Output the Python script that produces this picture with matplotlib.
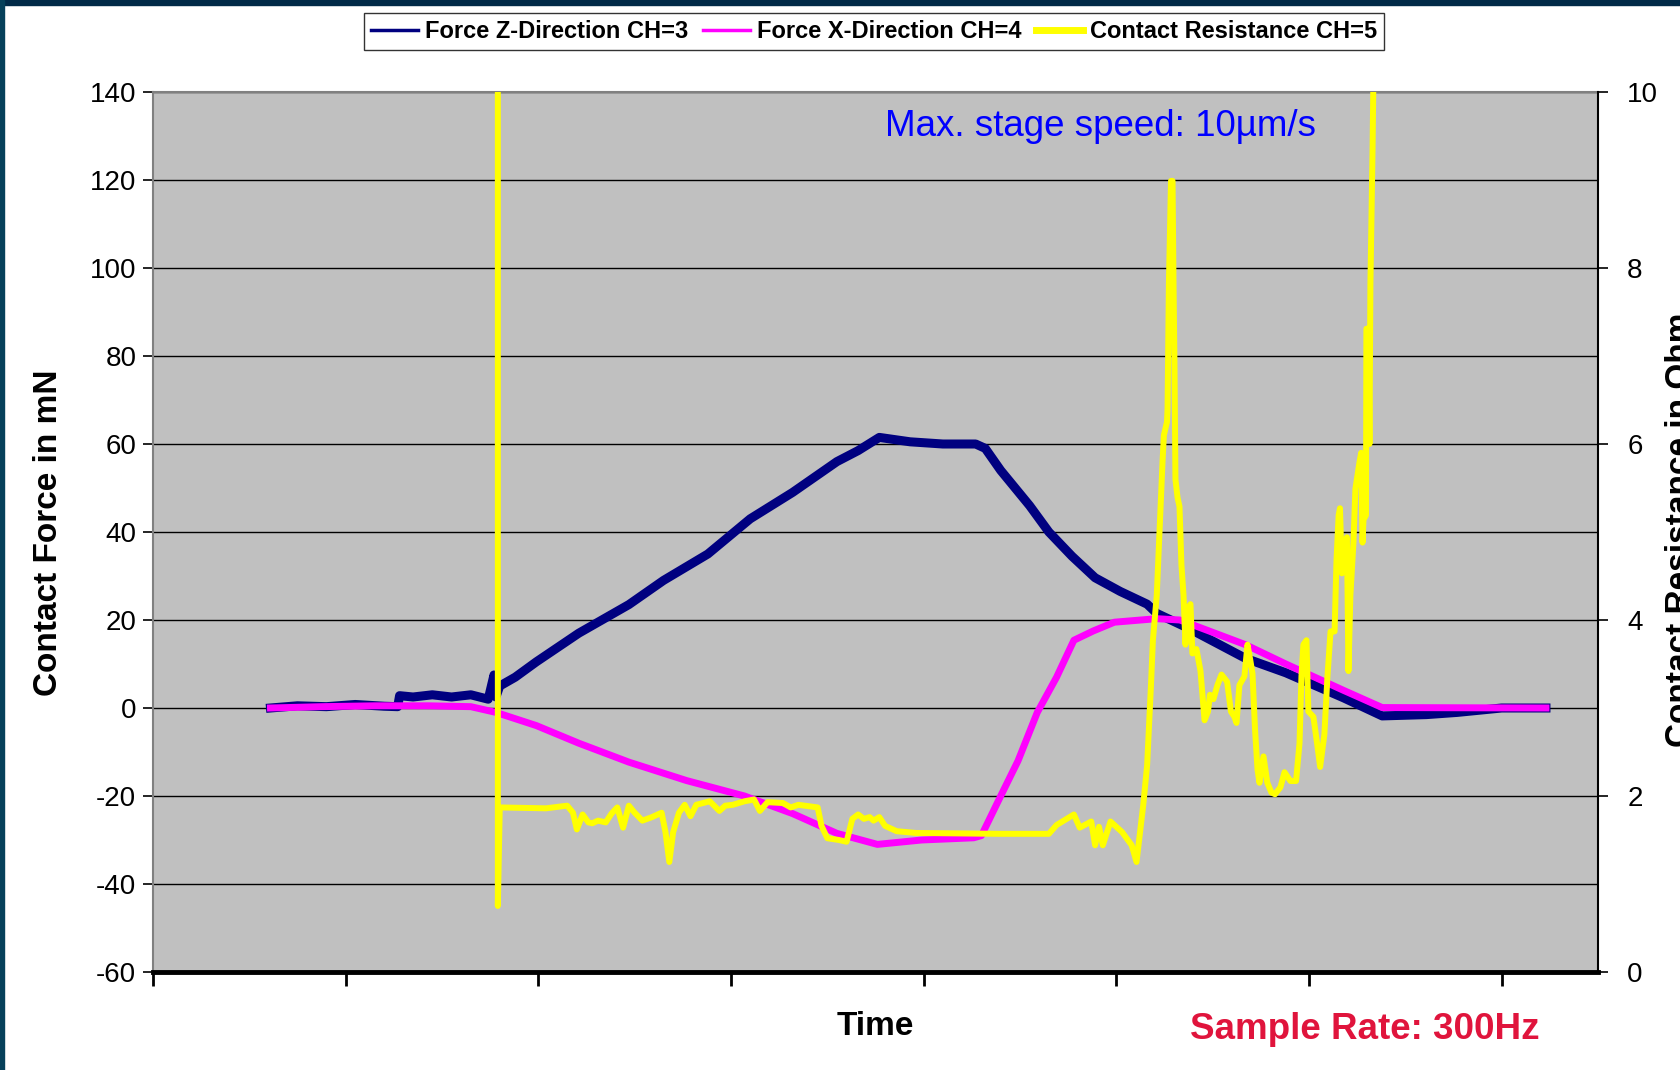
import matplotlib
matplotlib.use("Agg")
import matplotlib.pyplot as plt
from matplotlib.lines import Line2D
from matplotlib.patches import Rectangle

plt.rcParams['font.family'] = ['Liberation Sans', 'DejaVu Sans']
plt.rcParams['axes.unicode_minus'] = False

# time in chart divisions (the original x axis has no labels)
t_z = [0.61, 0.75, 0.90, 1.05, 1.20, 1.27, 1.28, 1.35, 1.45, 1.55, 1.65, 1.74, 1.77, 1.78,
       1.80, 1.88, 1.99, 2.21, 2.47, 2.65, 2.88, 3.10, 3.32, 3.55, 3.66, 3.77, 3.93, 4.10,
       4.27, 4.32, 4.40, 4.55, 4.65, 4.77, 4.89, 5.02, 5.16, 5.21, 5.38, 5.67, 5.88, 6.18,
       6.38, 6.61, 6.77, 7.00, 7.23]
force_z = [0.0, 0.5, 0.3, 0.8, 0.4, 0.3, 2.8, 2.5, 3.0, 2.5, 3.0, 2.0, 7.5, 2.5,
           5.0, 7.0, 10.5, 17.0, 23.5, 29.0, 35.0, 43.0, 49.0, 56.0, 58.5, 61.5, 60.5, 60.0,
           60.0, 59.0, 54.0, 46.0, 40.0, 34.5, 29.6, 26.5, 23.6, 21.5, 18.0, 11.3, 8.0, 2.3,
           -1.8, -1.5, -1.0, 0.0, 0.0]

t_x = [0.61, 0.87, 1.15, 1.43, 1.65, 1.78, 1.99, 2.21, 2.47, 2.77, 3.07, 3.32, 3.55, 3.76,
       3.99, 4.26, 4.30, 4.40, 4.49, 4.59, 4.69, 4.78, 4.88, 4.99, 5.21, 5.33, 5.67, 5.88,
       6.18, 6.38, 7.23]
force_x = [0.0, 0.3, 0.5, 0.5, 0.3, -1.0, -4.0, -8.0, -12.3, -16.5, -20.0, -24.0, -28.5, -31.0,
           -30.0, -29.5, -29.0, -20.0, -12.0, -1.0, 7.0, 15.4, 17.5, 19.5, 20.3, 20.0, 14.4, 10.0,
           4.0, 0.1, 0.0]

t_r = [1.79, 1.79, 1.80, 2.04, 2.15, 2.18, 2.20, 2.23, 2.26, 2.28, 2.31, 2.35, 2.38, 2.41,
       2.44, 2.46, 2.47, 2.50, 2.54, 2.59, 2.64, 2.66, 2.68, 2.70, 2.73, 2.76, 2.79, 2.82,
       2.89, 2.94, 2.97, 3.01, 3.07, 3.12, 3.15, 3.19, 3.27, 3.31, 3.35, 3.45, 3.47, 3.50,
       3.56, 3.60, 3.63, 3.66, 3.69, 3.72, 3.74, 3.77, 3.80, 3.86, 3.96, 4.39, 4.65, 4.69,
       4.78, 4.81, 4.87, 4.89, 4.91, 4.93, 4.97, 5.03, 5.08, 5.105, 5.14, 5.16, 5.18, 5.19,
       5.21, 5.22, 5.240, 5.247, 5.263, 5.266, 5.273, 5.284, 5.292, 5.297, 5.302, 5.307,
       5.318, 5.328, 5.338, 5.349, 5.359, 5.369, 5.385, 5.395, 5.416, 5.437, 5.458, 5.476,
       5.486, 5.504, 5.525, 5.546, 5.575, 5.595, 5.613, 5.624, 5.639, 5.665, 5.681, 5.695,
       5.707, 5.720, 5.733, 5.743, 5.764, 5.784, 5.805, 5.824, 5.852, 5.873, 5.904, 5.933,
       5.951, 5.961, 5.971, 5.987, 5.997, 6.023, 6.042, 6.058, 6.080, 6.096, 6.112, 6.133,
       6.143, 6.154, 6.161, 6.171, 6.184, 6.197, 6.205, 6.215, 6.231, 6.241, 6.262, 6.271,
       6.278, 6.283, 6.296, 6.298, 6.309, 6.314, 6.319, 6.330, 6.345]
resistance = [12.0, 0.75, 1.87, 1.86, 1.89, 1.81, 1.62, 1.79, 1.70, 1.69, 1.72, 1.70, 1.80, 1.87,
              1.64, 1.81, 1.89, 1.81, 1.72, 1.76, 1.81, 1.59, 1.25, 1.59, 1.81, 1.90, 1.77, 1.90,
              1.94, 1.83, 1.89, 1.90, 1.94, 1.96, 1.83, 1.93, 1.92, 1.87, 1.90, 1.87, 1.66, 1.52,
              1.50, 1.48, 1.74, 1.79, 1.74, 1.76, 1.72, 1.76, 1.66, 1.60, 1.58, 1.57, 1.57, 1.67,
              1.79, 1.64, 1.71, 1.44, 1.65, 1.44, 1.71, 1.59, 1.44, 1.25, 1.90, 2.35, 3.26, 3.77,
              4.28, 4.78, 5.80, 6.10, 6.25, 6.40, 7.82, 8.99, 8.99, 7.82, 6.90, 5.60,
              5.39, 5.29, 4.63, 4.28, 3.72, 4.12, 4.18, 3.62, 3.67, 3.42, 2.86, 2.96,
              3.15, 3.10, 3.26, 3.38, 3.30, 2.96, 2.90, 2.83, 3.26, 3.36, 3.72, 3.55,
              3.39, 2.76, 2.30, 2.15, 2.45, 2.15, 2.04, 2.02, 2.10, 2.27, 2.17, 2.17,
              2.60, 3.36, 3.72, 3.77, 2.96, 2.90, 2.60, 2.33, 2.70, 3.36, 3.87, 3.87,
              4.68, 5.19, 5.27, 4.53, 4.88, 4.94, 3.42, 4.28, 4.88, 5.49, 5.79, 5.90,
              4.88, 5.14, 5.19, 7.31, 7.31, 6.00, 7.82, 9.34, 12.0]

left_ticks = list(range(-60, 141, 20))
right_ticks = list(range(0, 11, 2))

fig = plt.figure(figsize=(16.81, 10.70), dpi=100)
ax = fig.add_axes([0.0910, 0.0916, 0.8596, 0.8224])
ax.set_facecolor('#c0c0c0')
ax.set_xlim(0, 7.5)
ax.set_ylim(-60, 140)
ax.set_yticks(left_ticks)
ax.set_xticks(range(0, 8))
ax.set_xticklabels([])
ax.grid(axis='y', color='black', lw=1.0)
ax.set_axisbelow(True)

ax.plot(t_z, force_z, color='#000080', lw=6.5)
ax.plot(t_x, force_x, color='#ff00ff', lw=5)

ax.spines['bottom'].set_linewidth(3.5)
ax.spines['bottom'].set_color('black')
for s in ['left', 'top']:
    ax.spines[s].set_color('#808080')
    ax.spines[s].set_linewidth(1.5)
ax.spines['right'].set_visible(False)
ax.tick_params(axis='y', direction='out', length=7, width=1.2, labelsize=20, pad=5)
ax.tick_params(axis='x', direction='out', length=10, width=2)

ax2 = ax.twinx()
ax2.set_ylim(0, 10)
ax2.set_yticks(right_ticks)
ax2.plot(t_r, resistance, color='#ffff00', lw=4.3)
for s in ['left', 'top', 'bottom']:
    ax2.spines[s].set_visible(False)
ax2.spines['right'].set_color('black')
ax2.spines['right'].set_linewidth(1.5)
ax2.tick_params(axis='y', direction='out', length=7, width=1.2, labelsize=20, pad=14)

ax.text(0.656, 0.961, 'Max. stage speed: 10µm/s', transform=ax.transAxes,
        ha='center', va='center', fontsize=26.5, color='#0000ff')

fig.text(0.0286, 0.502, 'Contact Force in mN', rotation=90, ha='center', va='center',
         fontsize=24, fontweight='bold')
# the original screenshot cuts this title off at the right edge
fig.text(0.9905, 0.505, 'Contact Resistance in Ohm', rotation=90, ha='left', va='center',
         fontsize=24, fontweight='bold')
fig.text(0.5205, 0.041, 'Time', ha='center', va='center', fontsize=24, fontweight='bold')
fig.text(0.812, 0.038, 'Sample Rate: 300Hz', ha='center', va='center', fontsize=26.5,
         fontweight='bold', color='#e0143c')

handles = [Line2D([], [], color='#000080', lw=2.5),
           Line2D([], [], color='#ff00ff', lw=2.5),
           Line2D([], [], color='#ffff00', lw=5)]
labels = ['Force Z-Direction CH=3', 'Force X-Direction CH=4', 'Contact Resistance CH=5']
leg = fig.legend(handles, labels, loc='center', bbox_to_anchor=(0.520, 0.9706), ncol=3,
                 frameon=True, fancybox=False, edgecolor='black',
                 prop=dict(weight='bold', size=17), handlelength=2.0, handletextpad=0.3,
                 columnspacing=0.6, borderpad=0.3, borderaxespad=0)
leg.get_frame().set_linewidth(1.0)

# dark frame of the original screenshot
fig.add_artist(Rectangle((0, 1 - 5 / 1070), 1, 5 / 1070, transform=fig.transFigure,
                         color='#012a48', zorder=10))
fig.add_artist(Rectangle((0, 0), 4 / 1681, 1, transform=fig.transFigure,
                         color='#06405a', zorder=10))

fig.savefig('out.png', dpi=100)
